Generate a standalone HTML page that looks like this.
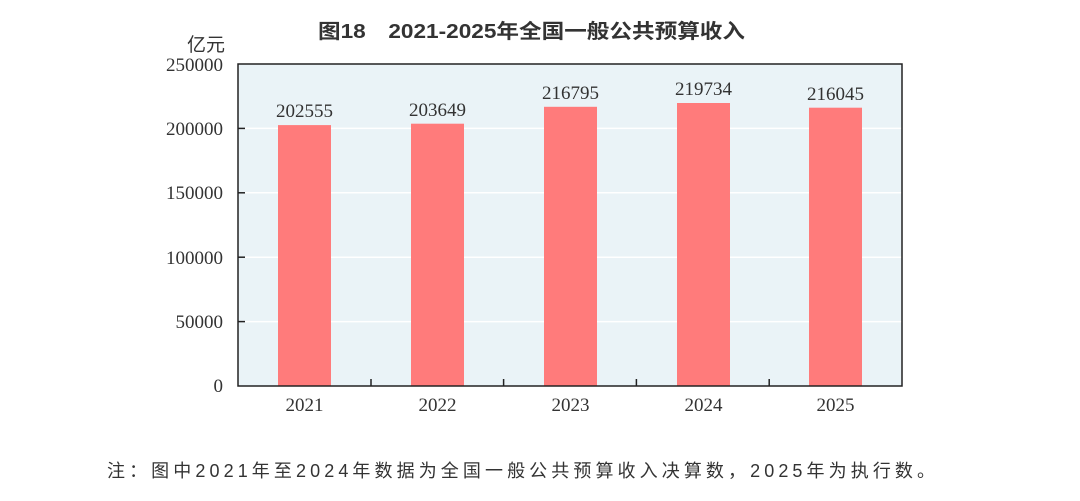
<!DOCTYPE html>
<html><head><meta charset="utf-8"><style>
body{margin:0;width:1080px;height:496px;background:#fff;overflow:hidden}
svg text{font-family:"Liberation Serif","Noto Serif CJK SC",serif;fill:#333}
.cj{font-family:"Liberation Sans","Noto Sans CJK SC",sans-serif}
</style></head><body>
<svg width="1080" height="496" viewBox="0 0 1080 496">
<text x="318" y="38" class="cj" font-size="20" font-weight="bold" fill="#222" textLength="427" lengthAdjust="spacingAndGlyphs">图18　2021-2025年全国一般公共预算收入</text>
<text x="225" y="51" text-anchor="end" class="cj" font-size="19">亿元</text>
<rect x="238" y="64" width="664" height="322" fill="#eaf3f7"/>
<g stroke="#fff" stroke-width="1.5">
<line x1="238" x2="902" y1="128.4" y2="128.4"/><line x1="238" x2="902" y1="192.8" y2="192.8"/>
<line x1="238" x2="902" y1="257.2" y2="257.2"/><line x1="238" x2="902" y1="321.6" y2="321.6"/>
</g>
<g fill="#ff7b7b">
<rect x="278" y="125.1" width="53" height="260.9"/>
<rect x="411" y="123.7" width="53" height="262.3"/>
<rect x="544" y="106.8" width="53" height="279.2"/>
<rect x="677" y="103" width="53" height="283"/>
<rect x="809" y="107.7" width="53" height="278.3"/>
</g>
<rect x="238" y="64" width="664" height="322" fill="none" stroke="#222" stroke-width="1.5"/>
<g stroke="#222" stroke-width="1.5">
<line x1="238" x2="245" y1="128.4" y2="128.4"/><line x1="238" x2="245" y1="192.8" y2="192.8"/>
<line x1="238" x2="245" y1="257.2" y2="257.2"/><line x1="238" x2="245" y1="321.6" y2="321.6"/>
<line x1="371" x2="371" y1="386" y2="379"/><line x1="503.6" x2="503.6" y1="386" y2="379"/>
<line x1="636.4" x2="636.4" y1="386" y2="379"/><line x1="769.2" x2="769.2" y1="386" y2="379"/>
</g>
<g font-size="19" text-anchor="end">
<text x="223" y="71">250000</text><text x="223" y="135">200000</text><text x="223" y="199">150000</text>
<text x="223" y="264">100000</text><text x="223" y="328">50000</text><text x="223" y="392">0</text>
</g>
<g font-size="19" text-anchor="middle">
<text x="304.5" y="117">202555</text><text x="437.5" y="116">203649</text><text x="570.5" y="99">216795</text>
<text x="703.5" y="95">219734</text><text x="835.5" y="100">216045</text>
<text x="304.5" y="411">2021</text><text x="437.5" y="411">2022</text><text x="570.5" y="411">2023</text>
<text x="703.5" y="411">2024</text><text x="835.5" y="411">2025</text>
</g>
<text x="107" y="477" class="cj" font-size="18" fill="#222" textLength="828" lengthAdjust="spacing">注：图中2021年至2024年数据为全国一般公共预算收入决算数，2025年为执行数。</text>
</svg>
</body></html>
